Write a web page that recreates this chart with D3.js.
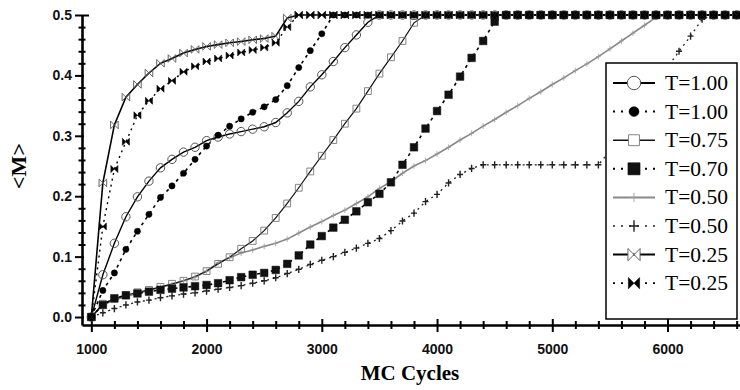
<!DOCTYPE html>
<html>
<head>
<meta charset="utf-8">
<script src="https://cdn.jsdelivr.net/npm/d3@7"></script>
<style>
  body { margin: 0; background: #fff; }
  svg { display: block; }
</style>
</head>
<body>
<svg></svg>
<script>
const width = 740, height = 390;

// MC cycle of every sample (one marker per 100 cycles)
const cycles = [
  1000, 1100, 1200, 1300, 1400, 1500, 1600, 1700, 1800, 1900,
  2000, 2100, 2200, 2300, 2400, 2500, 2600, 2700, 2800, 2900,
  3000, 3100, 3200, 3300, 3400, 3500, 3600, 3700, 3800, 3900,
  4000, 4100, 4200, 4300, 4400, 4500, 4600, 4700, 4800, 4900,
  5000, 5100, 5200, 5300, 5400, 5500, 5600, 5700, 5800, 5900,
  6000, 6100, 6200, 6300, 6400, 6500, 6600
];

// <M> for each run
const mT100a = [
  0, 0.070, 0.122, 0.166, 0.199, 0.225, 0.247, 0.261, 0.273, 0.281,
  0.292, 0.298, 0.303, 0.307, 0.311, 0.315, 0.322, 0.338, 0.357, 0.381,
  0.401, 0.423, 0.446, 0.467, 0.488, 0.5, 0.5, 0.5, 0.5, 0.5,
  0.5, 0.5, 0.5, 0.5, 0.5, 0.5, 0.5, 0.5, 0.5, 0.5,
  0.5, 0.5, 0.5, 0.5, 0.5, 0.5, 0.5, 0.5, 0.5, 0.5,
  0.5, 0.5, 0.5, 0.5, 0.5, 0.5, 0.5
];
const mT100b = [
  0, 0.044, 0.073, 0.112, 0.142, 0.170, 0.198, 0.217, 0.238, 0.261,
  0.283, 0.301, 0.316, 0.328, 0.339, 0.348, 0.360, 0.383, 0.413, 0.441,
  0.469, 0.5, 0.5, 0.5, 0.5, 0.5, 0.5, 0.5, 0.5, 0.5,
  0.5, 0.5, 0.5, 0.5, 0.5, 0.5, 0.5, 0.5, 0.5, 0.5,
  0.5, 0.5, 0.5, 0.5, 0.5, 0.5, 0.5, 0.5, 0.5, 0.5,
  0.5, 0.5, 0.5, 0.5, 0.5, 0.5, 0.5
];
const mT075 = [
  0, 0.022, 0.030, 0.036, 0.041, 0.045, 0.050, 0.055, 0.060, 0.067,
  0.076, 0.088, 0.099, 0.113, 0.126, 0.143, 0.164, 0.188, 0.214, 0.241,
  0.267, 0.293, 0.320, 0.345, 0.374, 0.403, 0.430, 0.457, 0.487, 0.5,
  0.5, 0.5, 0.5, 0.5, 0.5, 0.5, 0.5, 0.5, 0.5, 0.5,
  0.5, 0.5, 0.5, 0.5, 0.5, 0.5, 0.5, 0.5, 0.5, 0.5,
  0.5, 0.5, 0.5, 0.5, 0.5, 0.5, 0.5
];
const mT070 = [
  0, 0.020, 0.031, 0.036, 0.039, 0.042, 0.045, 0.047, 0.049, 0.051,
  0.053, 0.056, 0.061, 0.066, 0.070, 0.073, 0.078, 0.088, 0.102, 0.120,
  0.134, 0.148, 0.161, 0.175, 0.190, 0.204, 0.223, 0.252, 0.281, 0.312,
  0.341, 0.368, 0.398, 0.429, 0.457, 0.489, 0.5, 0.5, 0.5, 0.5,
  0.5, 0.5, 0.5, 0.5, 0.5, 0.5, 0.5, 0.5, 0.5, 0.5,
  0.5, 0.5, 0.5, 0.5, 0.5, 0.5, 0.5
];
const mT050a = [
  0, 0.020, 0.028, 0.034, 0.039, 0.044, 0.049, 0.054, 0.060, 0.066,
  0.076, 0.090, 0.098, 0.106, 0.111, 0.117, 0.122, 0.129, 0.139, 0.149,
  0.158, 0.168, 0.177, 0.188, 0.199, 0.213, 0.224, 0.238, 0.250, 0.259,
  0.270, 0.281, 0.293, 0.304, 0.316, 0.327, 0.339, 0.350, 0.362, 0.373,
  0.385, 0.396, 0.408, 0.419, 0.431, 0.444, 0.457, 0.470, 0.483, 0.496,
  0.5, 0.5, 0.5, 0.5, 0.5, 0.5, 0.5
];
const mT050b = [
  0, 0.007, 0.014, 0.020, 0.025, 0.028, 0.032, 0.035, 0.038, 0.040,
  0.043, 0.046, 0.049, 0.052, 0.056, 0.060, 0.065, 0.072, 0.079, 0.087,
  0.094, 0.100, 0.107, 0.114, 0.122, 0.130, 0.143, 0.159, 0.172, 0.191,
  0.203, 0.222, 0.236, 0.246, 0.252, 0.252, 0.252, 0.252, 0.252, 0.252,
  0.252, 0.252, 0.252, 0.252, 0.252, 0.275, 0.303, 0.330, 0.357, 0.385,
  0.413, 0.440, 0.465, 0.493, 0.5, 0.5, 0.5
];
const mT025a = [
  0, 0.222, 0.318, 0.364, 0.385, 0.404, 0.420, 0.428, 0.437, 0.443,
  0.448, 0.451, 0.454, 0.456, 0.459, 0.461, 0.465, 0.495, 0.5, 0.5,
  0.5, 0.5, 0.5, 0.5, 0.5, 0.5, 0.5, 0.5, 0.5, 0.5,
  0.5, 0.5, 0.5, 0.5, 0.5, 0.5, 0.5, 0.5, 0.5, 0.5,
  0.5, 0.5, 0.5, 0.5, 0.5, 0.5, 0.5, 0.5, 0.5, 0.5,
  0.5, 0.5, 0.5, 0.5, 0.5, 0.5, 0.5
];
const mT025b = [
  0, 0.150, 0.245, 0.290, 0.334, 0.358, 0.378, 0.391, 0.406, 0.415,
  0.423, 0.428, 0.433, 0.438, 0.442, 0.446, 0.454, 0.480, 0.5, 0.5,
  0.5, 0.5, 0.5, 0.5, 0.5, 0.5, 0.5, 0.5, 0.5, 0.5,
  0.5, 0.5, 0.5, 0.5, 0.5, 0.5, 0.5, 0.5, 0.5, 0.5,
  0.5, 0.5, 0.5, 0.5, 0.5, 0.5, 0.5, 0.5, 0.5, 0.5,
  0.5, 0.5, 0.5, 0.5, 0.5, 0.5, 0.5
];

const labels = ["T=1.00", "T=1.00", "T=0.75", "T=0.70", "T=0.50", "T=0.50", "T=0.25", "T=0.25"];
const xTicks = [1000, 2000, 3000, 4000, 5000, 6000];
const yTicks = [0, 0.1, 0.2, 0.3, 0.4, 0.5];

// marker shapes, s = half size
const shapes = {
  circle: s => d3.symbol(d3.symbolCircle, Math.PI * s * s)(),
  square: s => `M${-s},${-s}h${2 * s}v${2 * s}h${-2 * s}Z`,
  bowtie: s => `M${-s},${-s}L0,0L${-s},${s}ZM${s},${-s}L0,0L${s},${s}Z`,
  plus: s => `M${-s},0H${s}M0,${-s * 1.2}V${s * 1.2}`
};

// drawing style of each run, same order as labels
const styles = [
  { line: "#000", lw: 1.4, dash: null, shape: "circle", size: 4.2, fill: "none", stroke: "#555", sw: 1 },
  { line: "#000", lw: 1.6, dash: "3,4", shape: "circle", size: 3.1, fill: "#000", stroke: "#000", sw: 0.5 },
  { line: "#111", lw: 1.2, dash: null, shape: "square", size: 3.4, fill: "none", stroke: "#777", sw: 0.9 },
  { line: "#000", lw: 1.6, dash: "3,4", shape: "square", size: 3.8, fill: "#111", stroke: "#111", sw: 0.5 },
  { line: "#888", lw: 1.6, dash: null, shape: "plus", size: 2.4, fill: "none", stroke: "#999", sw: 0.8 },
  { line: "#222", lw: 1.3, dash: "2,4", shape: "plus", size: 3, fill: "none", stroke: "#222", sw: 1.4 },
  { line: "#000", lw: 1.6, dash: null, shape: "bowtie", size: 3.8, fill: "none", stroke: "#555", sw: 0.9 },
  { line: "#000", lw: 1.4, dash: "2,4", shape: "bowtie", size: 3.5, fill: "#000", stroke: "#000", sw: 0.6 }
];

const runs = [mT100a, mT100b, mT075, mT070, mT050a, mT050b, mT025a, mT025b].map((vals, i) => ({
  label: labels[i],
  style: styles[i],
  points: cycles.map((c, j) => ({ x: c, y: vals[j] }))
}));

const svg = d3.select("svg").attr("width", width).attr("height", height);

const x = d3.scaleLinear().domain([919, 6629]).range([82, 740]);
const y = d3.scaleLinear().domain([-0.0132, 0.5]).range([325, 15]);

// ---- axes ----
const minorX = d3.range(1200, 6700, 200).filter(v => v % 1000 !== 0);
const minorY = d3.range(0.02, 0.5, 0.02).filter(v => Math.abs(v * 10 - Math.round(v * 10)) > 1e-6);

const xMinor = svg.append("g")
  .attr("transform", `translate(0,325)`)
  .call(d3.axisBottom(x).tickValues(minorX).tickSize(4).tickSizeOuter(0).tickFormat(""));
xMinor.select(".domain").remove();
xMinor.selectAll(".tick line").attr("y1", -4).attr("stroke-width", 2);

const xAxis = svg.append("g")
  .attr("transform", `translate(0,325)`)
  .call(d3.axisBottom(x).tickValues(xTicks).tickSize(7).tickSizeOuter(0).tickPadding(12).tickFormat(d3.format("d")));
xAxis.select(".domain").attr("stroke-width", 2.6);
xAxis.selectAll(".tick line").attr("y1", -6).attr("stroke-width", 2);
xAxis.selectAll("text")
  .attr("font-family", "'Liberation Sans', Arial, sans-serif")
  .attr("font-weight", "bold")
  .attr("font-size", 14)
  .attr("fill", "#111");

const yMinor = svg.append("g")
  .attr("transform", `translate(82,0)`)
  .call(d3.axisLeft(y).tickValues(minorY).tickSize(3.5).tickSizeOuter(0).tickFormat(""));
yMinor.select(".domain").remove();
yMinor.selectAll(".tick line").attr("x1", 3.5).attr("stroke-width", 2);

const yAxis = svg.append("g")
  .attr("transform", `translate(82,0)`)
  .call(d3.axisLeft(y).tickValues(yTicks).tickSize(7).tickSizeOuter(0).tickPadding(3).tickFormat(d3.format(".1f")));
yAxis.select(".domain").attr("stroke-width", 2.6);
yAxis.selectAll(".tick line").attr("x1", d => d === 0.5 ? 7 : 2).attr("stroke-width", 2);
yAxis.selectAll("text")
  .attr("font-family", "'Liberation Sans', Arial, sans-serif")
  .attr("font-weight", "bold")
  .attr("font-size", 14)
  .attr("fill", "#111");

// axis titles
svg.append("text")
  .attr("x", 410).attr("y", 380)
  .attr("text-anchor", "middle")
  .attr("font-family", "'Liberation Serif', 'Times New Roman', serif")
  .attr("font-weight", "bold")
  .attr("font-size", 21)
  .text("MC Cycles");

svg.append("text")
  .attr("transform", "translate(26,166) rotate(-90)")
  .attr("text-anchor", "middle")
  .attr("font-family", "'Liberation Serif', 'Times New Roman', serif")
  .attr("font-weight", "bold")
  .attr("font-size", 22)
  .text("<M>");

// ---- lines ----
const line = d3.line().x(d => x(d.x)).y(d => y(d.y));
const drawOrder = [4, 5, 2, 0, 3, 1, 6, 7];

const plot = svg.append("g");
drawOrder.forEach(i => {
  const r = runs[i];
  plot.append("path")
    .datum(r.points)
    .attr("d", line)
    .attr("fill", "none")
    .attr("stroke", r.style.line)
    .attr("stroke-width", r.style.lw)
    .attr("stroke-dasharray", r.style.dash);
});

// ---- markers ----
drawOrder.forEach(i => {
  const r = runs[i], s = r.style;
  plot.append("g").selectAll("path")
    .data(r.points)
    .enter()
    .append("path")
    .attr("transform", d => `translate(${x(d.x)},${y(d.y)})`)
    .attr("d", shapes[s.shape](s.size))
    .attr("fill", s.fill)
    .attr("stroke", s.stroke)
    .attr("stroke-width", s.sw);
});

// ---- legend ----
const legend = svg.append("g");
legend.append("rect")
  .attr("x", 606).attr("y", 63)
  .attr("width", 131).attr("height", 256)
  .attr("fill", "#fff")
  .attr("stroke", "#000")
  .attr("stroke-width", 1.5);

const rows = legend.selectAll(".row")
  .data(runs)
  .enter()
  .append("g")
  .attr("class", "row")
  .attr("transform", (d, i) => `translate(0,${83 + i * 28.6})`);

rows.append("line")
  .attr("x1", 613).attr("x2", 655)
  .attr("stroke", d => d.style.line)
  .attr("stroke-width", d => d.style.lw + 0.4)
  .attr("stroke-dasharray", d => d.style.dash ? "2,6" : null);

rows.append("path")
  .attr("transform", "translate(634,0)")
  .attr("d", d => shapes[d.style.shape](d.style.size * 1.6))
  .attr("fill", d => d.style.fill === "none" ? "#fff" : d.style.fill)
  .attr("stroke", d => d.style.stroke)
  .attr("stroke-width", d => d.style.sw);

rows.append("text")
  .attr("x", 665).attr("y", 7)
  .attr("font-family", "'Liberation Serif', 'Times New Roman', serif")
  .attr("font-size", 21.5)
  .text(d => d.label);
</script>
</body>
</html>
